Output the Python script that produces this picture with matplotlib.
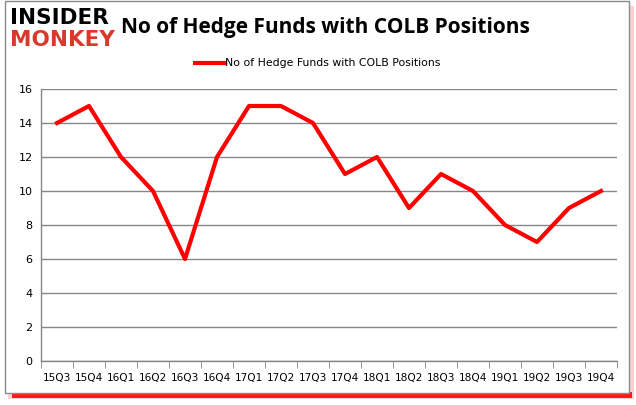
import matplotlib
matplotlib.use("Agg")
import matplotlib.pyplot as plt
from matplotlib.patches import Rectangle

quarters = ["15Q3", "15Q4", "16Q1", "16Q2", "16Q3", "16Q4", "17Q1", "17Q2", "17Q3",
            "17Q4", "18Q1", "18Q2", "18Q3", "18Q4", "19Q1", "19Q2", "19Q3", "19Q4"]
funds = [14, 15, 12, 10, 6, 12, 15, 15, 14, 11, 12, 9, 11, 10, 8, 7, 9, 10]
yticks = [0, 2, 4, 6, 8, 10, 12, 14, 16]

W, H = 636, 405
RED = "#ff0000"
GRID = "#868686"

fig = plt.figure(figsize=(W / 100, H / 100), dpi=100)


def px(x, y):
    # pixel coords (top-left origin) -> figure fraction
    return x / W, 1 - y / H


def box(x0, y0, x1, y1, **kw):
    fig.patches.append(Rectangle(px(x0, y1), (x1 - x0) / W, (y1 - y0) / H,
                                 transform=fig.transFigure, **kw))


# frame with red shadow (pale on the right, strong at the bottom)
box(8, 6, 634, 399, facecolor="#ffd0d0", edgecolor="none", zorder=0)
box(12, 392, 632, 398, facecolor="#ff1a1a", edgecolor="none", zorder=0)
box(5, 1, 629, 393, facecolor="white", edgecolor="#8a8a8a", linewidth=1, zorder=1)

l, b = px(41, 361)
r, t = px(617, 89)
ax = fig.add_axes([l, b, r - l, t - b])
ax.set_zorder(2)
ax.patch.set_alpha(0)

x = list(range(len(quarters)))
ax.plot(x, funds, color=RED, linewidth=3.0, zorder=3,
        label="No of Hedge Funds with COLB Positions")

ax.set_xlim(-0.5, len(quarters) - 0.5)
ax.set_ylim(0, 16)
ax.set_yticks(yticks)
ax.set_yticklabels([str(v) for v in yticks], fontsize=8)
ax.set_xticks(x)
ax.set_xticklabels(quarters, fontsize=7.6)
ax.set_xticks([i - 0.5 for i in range(len(quarters) + 1)], minor=True)
ax.tick_params(axis="x", which="major", length=0, pad=9)
ax.tick_params(axis="x", which="minor", length=5, color=GRID, direction="out")
ax.tick_params(axis="y", length=0, pad=6)
ax.grid(axis="y", color=GRID, linewidth=1)
ax.set_axisbelow(True)
for s in ["top", "right"]:
    ax.spines[s].set_visible(False)
for s in ["left", "bottom"]:
    ax.spines[s].set_color(GRID)
    ax.spines[s].set_linewidth(1)

# legend
ax.legend(loc="lower center", bbox_to_anchor=(0.48, 1.06), frameon=False, fontsize=7.8,
          handlelength=2.8, handletextpad=0.0, borderaxespad=0)

# title
fig.text(*px(325, 27), "No of Hedge Funds with COLB Positions", fontsize=15,
         fontweight="bold", family="Open Sans", ha="center", va="center", zorder=3)

# logo
fig.text(*px(10, 18), "INSIDER", fontsize=15.5, fontweight="heavy", family="DejaVu Sans",
         color="black", ha="left", va="center", zorder=3)
fig.text(*px(10, 40), "MONKEY", fontsize=15.5, fontweight="heavy", family="DejaVu Sans",
         color="#d8392b", ha="left", va="center", zorder=3)

fig.savefig("out.png", dpi=100)
